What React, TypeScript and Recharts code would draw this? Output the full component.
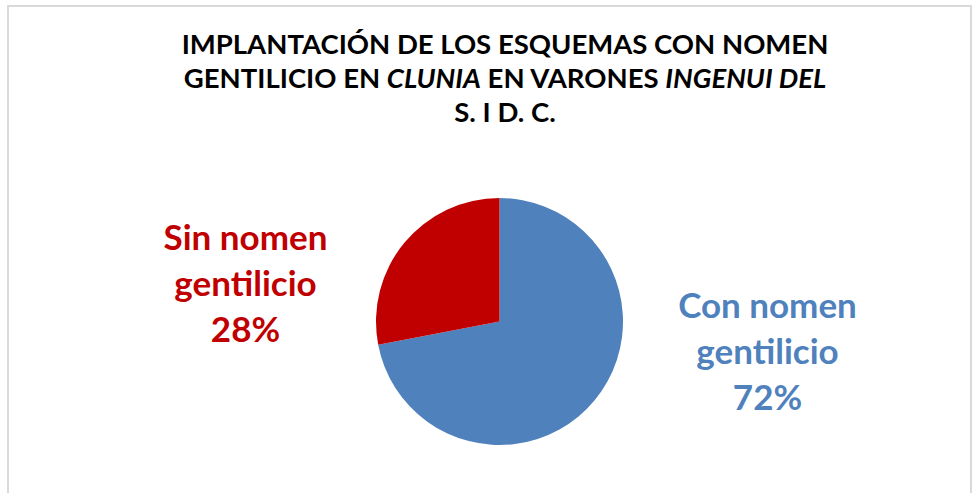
import { PieChart, Pie, Cell } from "recharts";

const CATEGORIES = ["Con nomen gentilicio", "Sin nomen gentilicio"];
const VALUES = [72, 28];
const LABEL_LINES = [
  ["Con nomen", "gentilicio", "72%"],
  ["Sin nomen", "gentilicio", "28%"],
];
const COLORS = ["#4F81BD", "#C00000"];

// where Excel dropped the labels, relative to the pie centre
const LABEL_OFFSETS = [
  { dx: 268, dy: -4 },
  { dx: -254, dy: -72 },
];

const FONT = "Lato, 'Open Sans', sans-serif";

const data = CATEGORIES.map((name, i) => ({ name, value: VALUES[i] }));

const renderLabel = (props: any) => {
  const { cx, cy, index } = props;
  const off = LABEL_OFFSETS[index];
  const x = cx + off.dx;
  const y = cy + off.dy;
  return (
    <text
      x={x}
      y={y}
      textAnchor="middle"
      fill={COLORS[index]}
      fontFamily={FONT}
      fontWeight={700}
      fontSize={35}
    >
      {LABEL_LINES[index].map((line, j) => (
        <tspan key={j} x={x} y={y + j * 46}>
          {line}
        </tspan>
      ))}
    </text>
  );
};

export default function App() {
  return (
    <div style={{ position: "absolute", left: 0, top: 0, width: 979, height: 493, background: "#fff", overflow: "hidden" }}>
      <div
        style={{
          position: "absolute",
          left: 7,
          top: 5,
          width: 961,
          height: 520,
          border: "2px solid #D9D9D9",
        }}
      />
      <svg width={979} height={140} style={{ position: "absolute", left: 0, top: 0 }}>
        <text textAnchor="middle" fontFamily={FONT} fontWeight={700} fontSize={27.5} fill="#000">
          <tspan x={505} y={54}>IMPLANTACIÓN DE LOS ESQUEMAS CON NOMEN</tspan>
          <tspan x={505} y={88}>
            GENTILICIO EN <tspan fontStyle="italic">CLUNIA</tspan> EN VARONES{" "}
            <tspan fontStyle="italic">INGENUI DEL</tspan>
          </tspan>
          <tspan x={505} y={122}>S. I D. C.</tspan>
        </text>
      </svg>
      <div style={{ position: "absolute", left: 0, top: 0 }}>
        <PieChart width={979} height={493} margin={{ top: 0, right: 0, bottom: 0, left: 0 }}>
          <Pie
            data={data}
            dataKey="value"
            nameKey="name"
            cx={499.5}
            cy={321.5}
            outerRadius={123.5}
            startAngle={90}
            endAngle={-270}
            stroke="none"
            label={renderLabel}
            labelLine={false}
            isAnimationActive={false}
          >
            {data.map((_, i) => (
              <Cell key={i} fill={COLORS[i]} />
            ))}
          </Pie>
        </PieChart>
      </div>
    </div>
  );
}
